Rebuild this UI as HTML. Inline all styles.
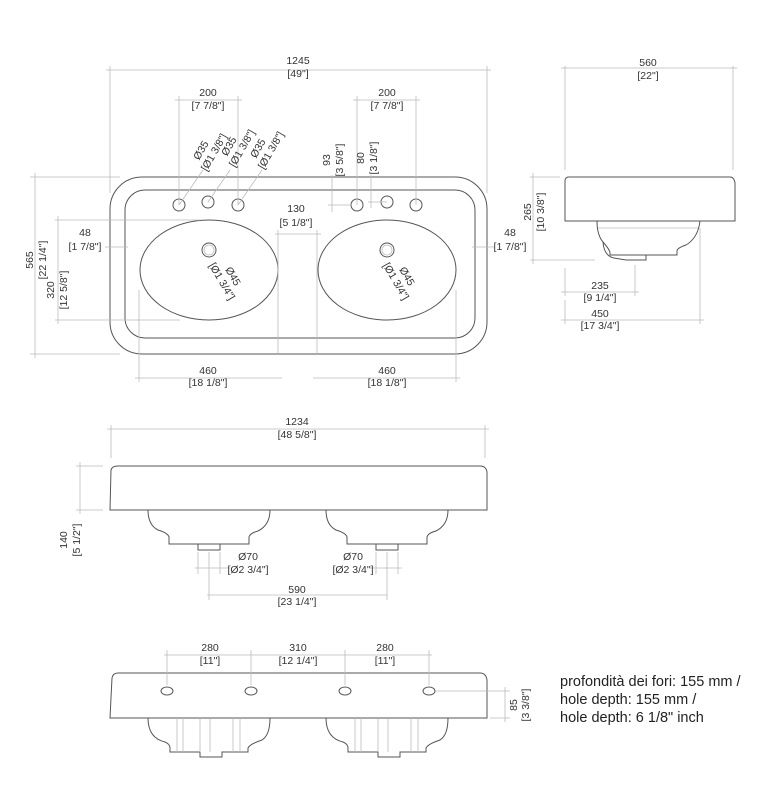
<!DOCTYPE html>
<html><head><meta charset="utf-8"><style>
body{margin:0;background:#fff}
svg{display:block}
text{font-family:"Liberation Sans",sans-serif;font-size:10.5px;fill:#333;text-anchor:middle}
.d{stroke:#bbb;stroke-width:0.8;fill:none}
.o{stroke:#555;stroke-width:1;fill:none}
.t{font-size:14.5px;text-anchor:start;fill:#222}
</style></head><body>
<svg width="779" height="796" viewBox="0 0 779 796">
<!-- TOP VIEW -->
<rect class="o" x="110" y="177" width="377" height="177" rx="32"/>
<rect class="o" x="125" y="190" width="350" height="148" rx="20"/>
<ellipse class="o" cx="209" cy="270" rx="69" ry="50"/>
<ellipse class="o" cx="387" cy="270" rx="69" ry="50"/>
<circle class="o" cx="209" cy="250" r="7"/><circle class="d" cx="209" cy="250" r="5"/>
<circle class="o" cx="387" cy="250" r="7"/><circle class="d" cx="387" cy="250" r="5"/>
<g class="o"><circle cx="179" cy="205" r="6"/><circle cx="208" cy="202" r="6"/><circle cx="238" cy="205" r="6"/>
<circle cx="357" cy="205" r="6"/><circle cx="387" cy="202" r="6"/><circle cx="416" cy="205" r="6"/></g>
<g class="d">
<path d="M110 66V193M487 66V193M106 70H491"/>
<path d="M179 96V205M238 96V205M175 100H242"/>
<path d="M357 96V205M416 96V205M353 100H420"/>
<path d="M179 205L203 170M208 202L230 170M238 205L262 170"/>
<path d="M332 175V212M328 205H352M371 175V208M368 202H387"/>
<path d="M278 230V354M317 230V354M275 234H321"/>
<path d="M105 247H128M472 247H495"/>
<path d="M30 177H120M30 354H120M35 173V358"/>
<path d="M55 220H200M55 320H180M58 216V324"/>
<path d="M139 290V382M456 290V382M135 378H282M313 378H460"/>
</g>
<text x="298" y="64">1245</text><text x="298" y="77">[49"]</text>
<text x="208" y="96">200</text><text x="208" y="109">[7 7/8"]</text>
<text x="387" y="96">200</text><text x="387" y="109">[7 7/8"]</text>
<text transform="translate(204,152) rotate(-60)">Ø35</text><text transform="translate(217,154) rotate(-60)">[Ø1 3/8"]</text>
<text transform="translate(232,148) rotate(-60)">Ø35</text><text transform="translate(245,150) rotate(-60)">[Ø1 3/8"]</text>
<text transform="translate(261,150) rotate(-60)">Ø35</text><text transform="translate(274,152) rotate(-60)">[Ø1 3/8"]</text>
<text transform="translate(330,160) rotate(-90)">93</text><text transform="translate(343,160) rotate(-90)">[3 5/8"]</text>
<text transform="translate(364,158) rotate(-90)">80</text><text transform="translate(377,158) rotate(-90)">[3 1/8"]</text>
<text x="296" y="212">130</text><text x="296" y="226">[5 1/8"]</text>
<text x="85" y="236">48</text><text x="85" y="250">[1 7/8"]</text>
<text x="510" y="236">48</text><text x="510" y="250">[1 7/8"]</text>
<text transform="translate(230,278) rotate(60)">Ø45</text><text transform="translate(219,283) rotate(60)">[Ø1 3/4"]</text>
<text transform="translate(404,278) rotate(60)">Ø45</text><text transform="translate(393,283) rotate(60)">[Ø1 3/4"]</text>
<text transform="translate(33,260) rotate(-90)">565</text><text transform="translate(46,260) rotate(-90)">[22 1/4"]</text>
<text transform="translate(54,290) rotate(-90)">320</text><text transform="translate(67,290) rotate(-90)">[12 5/8"]</text>
<text x="208" y="374">460</text><text x="208" y="386">[18 1/8"]</text>
<text x="387" y="374">460</text><text x="387" y="386">[18 1/8"]</text>
<!-- SIDE VIEW -->
<path class="o" d="M565 221V181Q565 177 569 177H730Q734 177 735 183L735 221Z"/>
<path class="o" d="M597 221Q597 235 603 242Q610 250 610 253V255H677V251Q677 248 686 245Q698 238 700 221"/>
<path class="d" d="M598 228H698"/>
<path class="o" d="M603 242Q604 256 614 258L626 260H646V255"/>
<g class="d"><path d="M565 66V170M733 66V170M561 68H737"/>
<path d="M530 177H560M530 260H595M533 173V264"/>
<path d="M565 268V296M635 265V296M561 292H639"/>
<path d="M565 300V324M700 228V324M561 320H704"/></g>
<text x="648" y="66">560</text><text x="648" y="79">[22"]</text>
<text transform="translate(531,212) rotate(-90)">265</text><text transform="translate(544,212) rotate(-90)">[10 3/8"]</text>
<text x="600" y="289">235</text><text x="600" y="301">[9 1/4"]</text>
<text x="600" y="317">450</text><text x="600" y="329">[17 3/4"]</text>
<!-- FRONT VIEW -->
<path class="o" d="M110 510L111 470Q112 466 118 466H480Q486 466 487 472L487 510Z"/>
<g class="o">
<path d="M148 510Q148 525 158 530Q168 533 169 537V544H249V537Q250 533 258 531Q270 525 270 510"/>
<path d="M198 544V550H220V544"/>
<path d="M326 510Q326 525 336 530Q346 533 347 537V544H427V537Q428 533 436 531Q448 525 448 510"/>
<path d="M376 544V550H398V544"/></g>
<g class="d"><path d="M111 425V458M485 425V458M107 429H489"/>
<path d="M76 466H103M76 510H103M80 462V514"/>
<path d="M198 552V574M209 552V600M220 552V574M195 568H230"/>
<path d="M376 552V574M387 552V600M398 552V574M370 568H402"/>
<path d="M207 595H387"/></g>
<text x="297" y="425">1234</text><text x="297" y="438">[48 5/8"]</text>
<text transform="translate(67,540) rotate(-90)">140</text><text transform="translate(80,540) rotate(-90)">[5 1/2"]</text>
<text x="248" y="560">Ø70</text><text x="248" y="573">[Ø2 3/4"]</text>
<text x="353" y="560">Ø70</text><text x="353" y="573">[Ø2 3/4"]</text>
<text x="297" y="593">590</text><text x="297" y="605">[23 1/4"]</text>
<!-- BACK VIEW -->
<path class="o" d="M110 718L112 678Q113 673 118 673H480Q486 673 487 680L487 718Z"/>
<g class="o"><ellipse cx="167" cy="691" rx="6" ry="4"/><ellipse cx="251" cy="691" rx="6" ry="4"/><ellipse cx="345" cy="691" rx="6" ry="4"/><ellipse cx="429" cy="691" rx="6" ry="4"/>
<path d="M148 718Q148 738 165 742Q170 744 170 748V752H200V757H222V752H248V748Q250 744 262 740Q270 735 270 718"/>
<path d="M326 718Q326 738 343 742Q348 744 348 748V752H378V757H400V752H426V748Q428 744 440 740Q448 735 448 718"/></g>
<g class="d"><path d="M177 718V752M183 718V752M200 718V752M210 718V752M233 718V752M240 718V752"/>
<path d="M355 718V752M361 718V752M378 718V752M388 718V752M411 718V752M418 718V752"/>
<path d="M167 650V685M251 650V685M345 650V685M429 650V685M164 655H432"/>
<path d="M436 691H510M490 718H510M505 687V722"/></g>
<text x="210" y="651">280</text><text x="210" y="664">[11"]</text>
<text x="298" y="651">310</text><text x="298" y="664">[12 1/4"]</text>
<text x="385" y="651">280</text><text x="385" y="664">[11"]</text>
<text transform="translate(517,705) rotate(-90)">85</text><text transform="translate(529,705) rotate(-90)">[3 3/8"]</text>
<text class="t" x="560" y="686">profondità dei fori: 155 mm /</text>
<text class="t" x="560" y="704">hole depth: 155 mm /</text>
<text class="t" x="560" y="722">hole depth: 6 1/8" inch</text>
</svg>
</body></html>
